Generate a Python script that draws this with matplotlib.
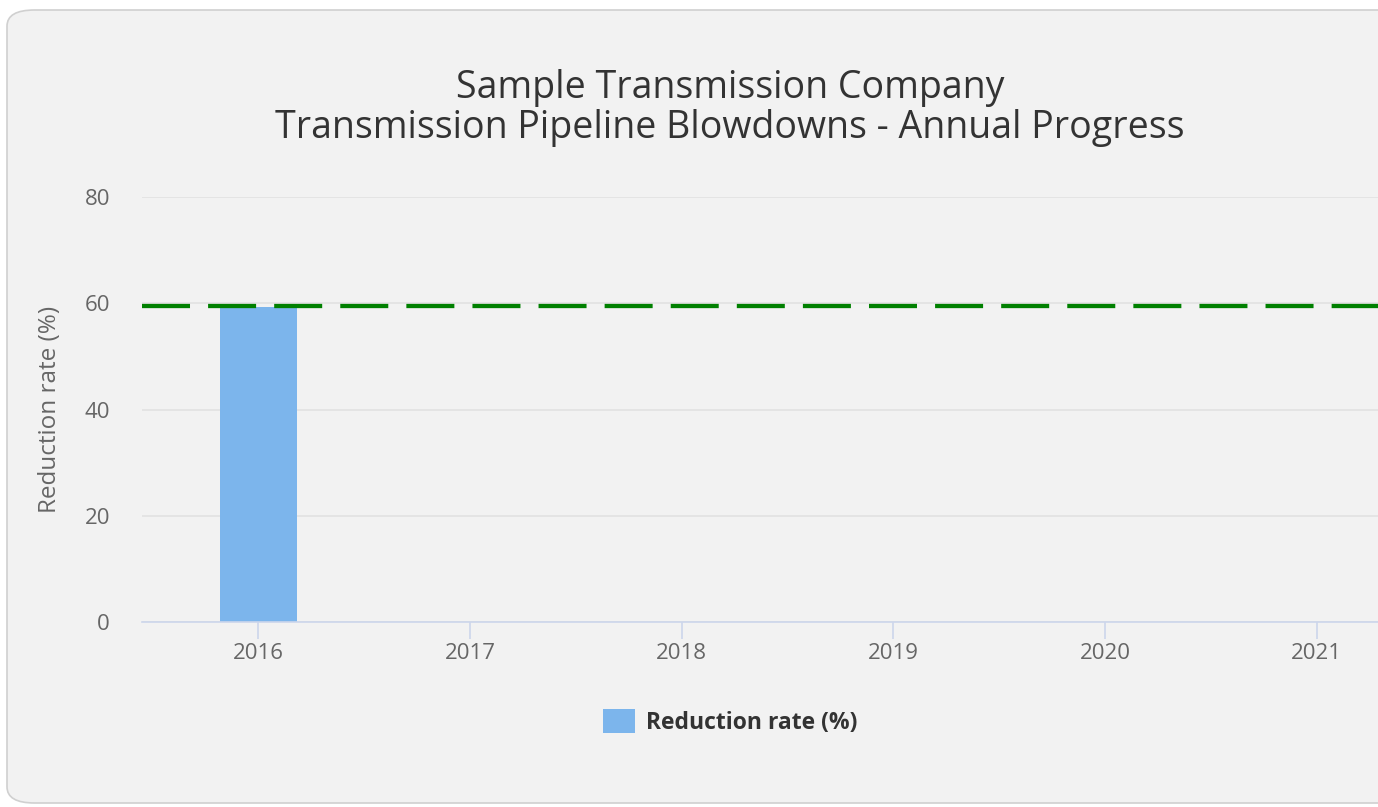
import matplotlib.pyplot as plt
from matplotlib.patches import FancyBboxPatch

# chart data
YEARS = ['2016', '2017', '2018', '2019', '2020', '2021']
REDUCTION = [59.3, None, None, None, None, None]
TARGET = 59.5

TITLE = 'Sample Transmission Company\nTransmission Pipeline Blowdowns - Annual Progress'
Y_LABEL = 'Reduction rate (%)'
LEGEND_LABEL = 'Reduction rate (%)'

W, H = 1378, 807
FONT = 'Open Sans'


def px(x, y):
    # pixel coords (top-left origin) -> figure fraction
    return x / W, 1 - y / H


def main():
    plt.rcParams['font.family'] = [FONT, 'DejaVu Sans']
    fig = plt.figure(figsize=(W / 100, H / 100), dpi=100, facecolor='white')

    # rounded grey panel, cut off on the right
    panel = FancyBboxPatch((7 / W, 1 - 803 / H), 1420 / W, 793 / H,
                           boxstyle='round,pad=0,rounding_size=0.02',
                           transform=fig.transFigure, facecolor='#f2f2f2',
                           edgecolor='#d0d0d0', linewidth=1.2, zorder=-10)
    fig.patches.append(panel)

    left, top = px(142, 197)
    _, bottom = px(0, 622)
    ax = fig.add_axes([left, bottom, 1.0 - left, top - bottom])
    ax.set_facecolor('none')
    ax.set_zorder(1)

    xs = list(range(len(YEARS)))
    bar_x = [x for x, v in zip(xs, REDUCTION) if v is not None]
    bar_v = [v for v in REDUCTION if v is not None]
    ax.bar(bar_x, bar_v, width=0.36, color='#7cb5ec', zorder=2,
           label=LEGEND_LABEL)
    ax.axhline(TARGET, color='#008000', linewidth=3.1,
               dashes=(11.15, 4.2), zorder=3)

    ax.set_ylim(0, 80)
    ax.set_yticks([0, 20, 40, 60, 80])
    ax.set_xlim(-0.55, 5.29)
    ax.set_xticks(xs)
    ax.set_xticklabels(YEARS)
    ax.grid(axis='y', color='#e0e0e0', linewidth=1.1, zorder=0)
    ax.set_axisbelow(True)

    for side in ['top', 'right', 'left']:
        ax.spines[side].set_visible(False)
    ax.spines['bottom'].set_color('#ccd6eb')
    ax.spines['bottom'].set_linewidth(1.2)

    ax.tick_params(axis='y', length=0, pad=23, labelsize=16,
                   labelcolor='#666666')
    ax.tick_params(axis='x', length=12, width=1.2, color='#ccd6eb', pad=3,
                   labelsize=16, labelcolor='#666666')

    ax.set_ylabel(Y_LABEL, fontsize=17.5, color='#666666', labelpad=16)

    tx, ty = px(730, 108)
    fig.text(tx, ty, TITLE, ha='center', va='center', fontsize=27,
             color='#333333', linespacing=1.1)

    lx, ly = px(730, 722)
    fig.legend(loc='center', bbox_to_anchor=(lx, ly), frameon=False,
               prop={'size': 16.5, 'weight': 'bold'}, handlelength=1.4,
               handleheight=1.2, handletextpad=0.5, labelcolor='#333333')

    fig.savefig('out.png', dpi=100, facecolor='white')


if __name__ == '__main__':
    main()
